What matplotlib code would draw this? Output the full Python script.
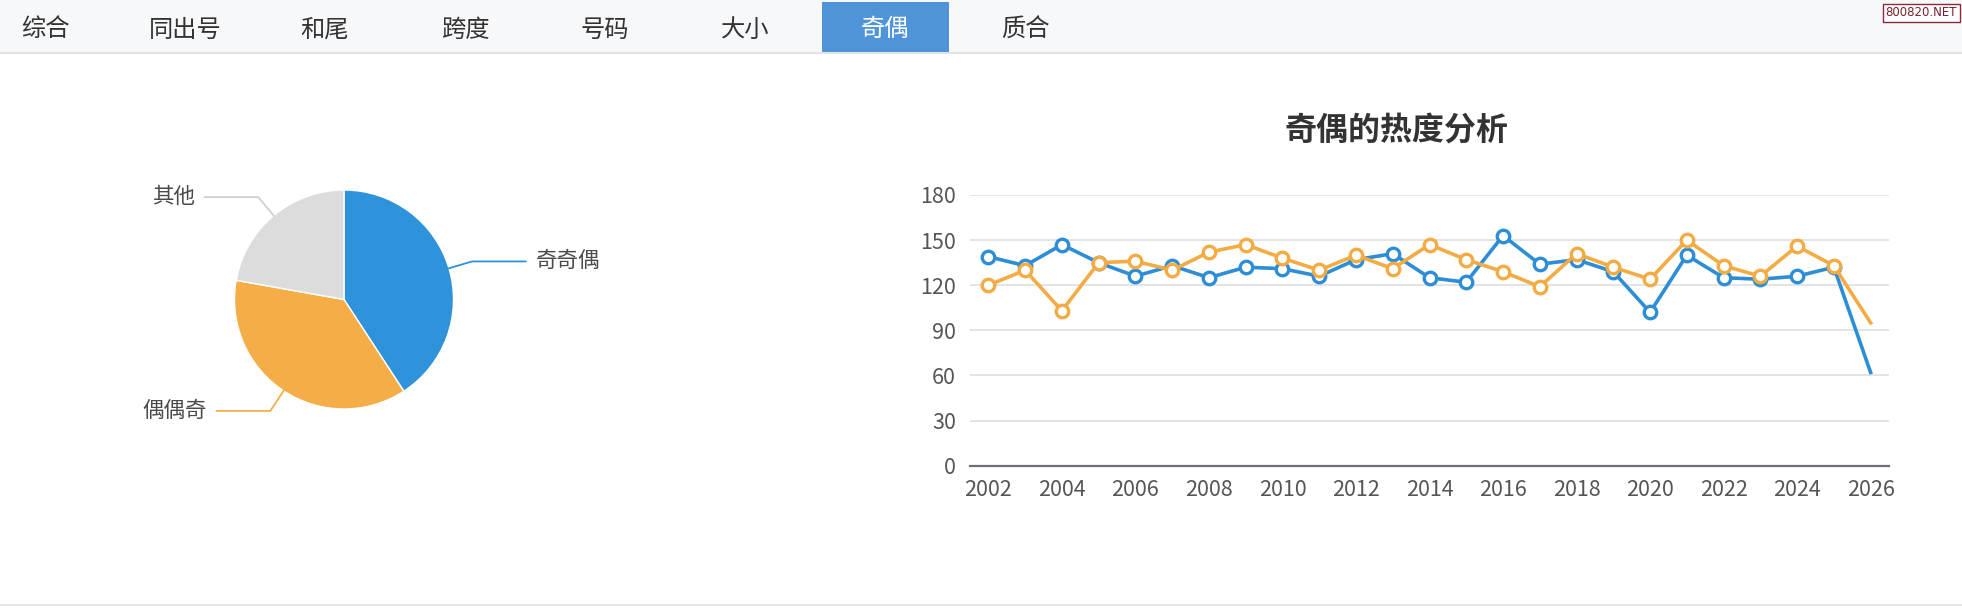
import matplotlib
matplotlib.use('Agg')
import matplotlib.pyplot as plt
from matplotlib.patches import Rectangle
from matplotlib.lines import Line2D
import numpy as np

plt.rcParams['font.family'] = ['Noto Sans CJK SC', 'DejaVu Sans']

# ---------------- data ----------------
tabs = ['综合', '同出号', '和尾', '跨度', '号码', '大小', '奇偶', '质合']
active_tab = '奇偶'
watermark = '800820.NET'

pie_labels = ['奇奇偶', '偶偶奇', '其他']
pie_values = [40.8, 37.0, 22.2]
pie_colors = ['#2e93db', '#f5ae47', '#dcdcdc']

title = '奇偶的热度分析'
years = list(range(2002, 2027))
series_blue = [139, 133, 147, 135, 126, 133, 125, 132, 131, 126, 137, 141, 125,
               122, 153, 134, 137, 129, 102, 140, 125, 124, 126, 132, 62]
series_orange = [120, 130, 103, 135, 136, 130, 142, 147, 138, 130, 140, 131, 147,
                 137, 129, 119, 141, 132, 124, 150, 133, 126, 146, 133, 95]
y_ticks = [0, 30, 60, 90, 120, 150, 180]
x_ticks = list(range(2002, 2027, 2))

# ---------------- figure ----------------
W, H = 1962, 611
fig = plt.figure(figsize=(W / 100, H / 100), dpi=100)
fig.patch.set_facecolor('white')


def fx(x):
    return x / W


def fy(y):
    return 1 - y / H


# tab bar
fig.patches.append(Rectangle((0, fy(53)), 1, 53 / H, transform=fig.transFigure,
                             facecolor='#f7f8fa', edgecolor='none', zorder=0))
fig.lines.append(Line2D([0, 1], [fy(53), fy(53)], transform=fig.transFigure,
                        color='#e3e4e6', lw=1.5))
for i, t in enumerate(tabs):
    cx = 45 + 140 * i
    col = '#333333'
    if t == active_tab:
        fig.patches.append(Rectangle((fx(cx - 63), fy(53)), 127 / W, 51 / H,
                                     transform=fig.transFigure,
                                     facecolor='#4f94d9', edgecolor='none', zorder=1))
        col = 'white'
    fig.text(fx(cx), fy(29.5), t, ha='center', va='center', fontsize=17.5,
             color=col, zorder=2)

# watermark
fig.patches.append(Rectangle((fx(1883), fy(22)), 77 / W, 18 / H,
                             transform=fig.transFigure, facecolor='white',
                             edgecolor='#8b2a3a', lw=1, zorder=3))
fig.text(fx(1921.5), fy(13), watermark, ha='center', va='center', fontsize=8.5,
         color='#7a1f2e', family=['DejaVu Sans'], zorder=4)

# bottom border
fig.lines.append(Line2D([0, 1], [fy(605), fy(605)], transform=fig.transFigure,
                        color='#e6e6e6', lw=1.5))

# ---------------- pie ----------------
pcx, pcy, pr = 344, 299.5, 109.5
axp = fig.add_axes([fx(pcx - pr), fy(pcy + pr), 2 * pr / W, 2 * pr / H])
wedges, _ = axp.pie(pie_values, colors=pie_colors, startangle=90,
                    counterclock=False, radius=1,
                    wedgeprops=dict(edgecolor='white', linewidth=1))
axp.set_xlim(-1, 1)
axp.set_ylim(-1, 1)
axp.axis('off')
for w, lab, c in zip(wedges, pie_labels, pie_colors):
    mid = np.deg2rad((w.theta1 + w.theta2) / 2)
    cx, cy = np.cos(mid), np.sin(mid)
    sgn = 1 if cx >= 0 else -1
    p0 = (cx * 1.0, cy * 1.0)
    p1 = (cx * 1.22, cy * 1.22)
    p2 = (p1[0] + sgn * 0.49, p1[1])
    lc = '#d0d0d0' if c == '#dcdcdc' else c
    axp.plot([p0[0], p1[0], p2[0]], [p0[1], p1[1], p2[1]], color=lc, lw=1.3,
             clip_on=False)
    axp.text(p2[0] + sgn * 0.09, p2[1], lab, ha='left' if sgn > 0 else 'right',
             va='center', fontsize=15.5, color='#4a4a4a', clip_on=False)

# ---------------- line chart ----------------
ax = fig.add_axes([fx(970), fy(465.7), (1889 - 970) / W, (465.7 - 195) / H])
ax.set_ylim(0, 180)
ax.set_xlim(2001.5, 2026.5)
for s in ['top', 'right', 'left']:
    ax.spines[s].set_visible(False)
ax.spines['bottom'].set_color('#6e7079')
ax.spines['bottom'].set_linewidth(1.6)
ax.set_yticks(y_ticks)
ax.set_xticks(x_ticks)
ax.set_xticklabels([str(x) for x in x_ticks])
ax.grid(axis='y', color='#e2e2e2', lw=1.3)
ax.set_axisbelow(True)
ax.tick_params(axis='both', length=0, labelsize=15.5, labelcolor='#555555')
ax.tick_params(axis='y', pad=10)
ax.tick_params(axis='x', pad=9.5)

mk = list(range(len(years) - 1))
ax.plot(years, series_blue, color='#2d8ed6', lw=2.6, marker='o', markersize=9,
        markerfacecolor='white', markeredgewidth=2.4, markevery=mk, zorder=3,
        clip_on=False)
ax.plot(years, series_orange, color='#f3ab44', lw=2.6, marker='o', markersize=9,
        markerfacecolor='white', markeredgewidth=2.4, markevery=mk, zorder=4,
        clip_on=False)

fig.text(fx(1397), fy(131), title, ha='center', va='center', fontsize=23,
         fontweight='bold', color='#333333')

fig.savefig('out.png', dpi=100, facecolor='white')
